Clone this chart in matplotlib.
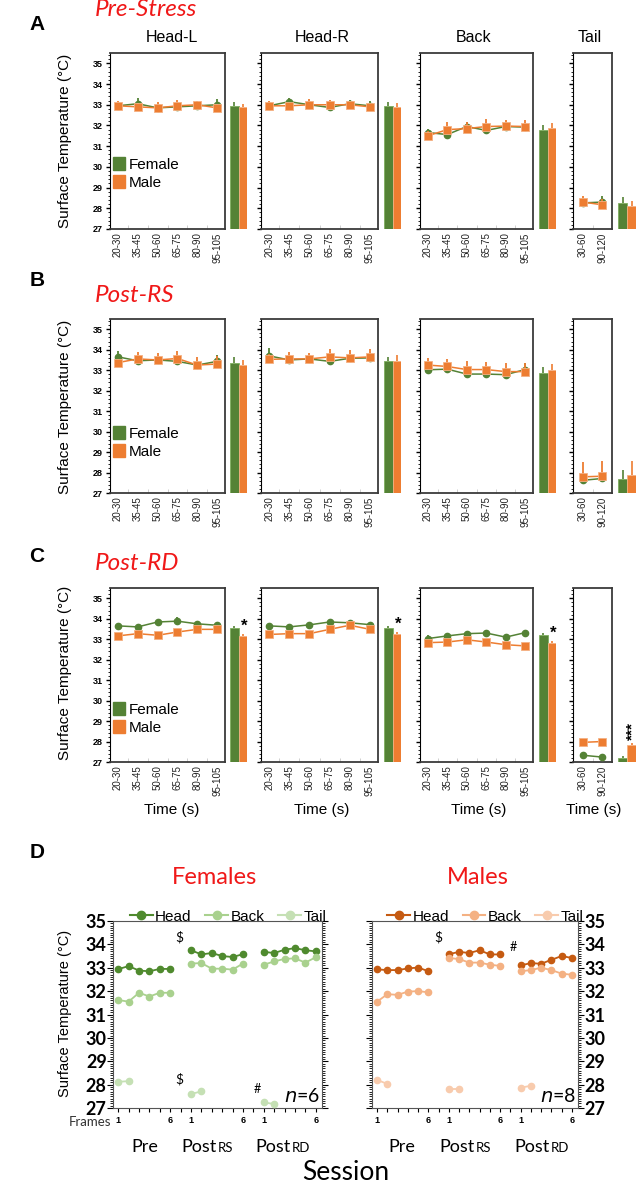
import numpy as np
import matplotlib.pyplot as plt
from matplotlib.patches import Patch
from matplotlib.lines import Line2D
from matplotlib.ticker import MultipleLocator

plt.rcParams['font.family'] = ['Liberation Sans', 'DejaVu Sans']

W, H = 638, 1190
GREEN, ORANGE = '#548235', '#ed7d31'
RED = '#f01818'
CAL = 'Lato'  # stand-in for Calibri

# ---------------- data: panels A-C ----------------
time_bins = ['20-30', '35-45', '50-60', '65-75', '80-90', '95-105']
tail_bins = ['30-60', '90-120']
region_titles = ['Head-L', 'Head-R', 'Back', 'Tail']
session_titles = ['Pre-Stress', 'Post-RS', 'Post-RD']

# order inside each list: Head-L, Head-R, Back, Tail
pre_female = [[32.95, 33.05, 32.85, 32.9, 32.95, 33.0],
              [32.95, 33.15, 33.0, 32.87, 33.05, 32.95],
              [31.66, 31.56, 31.95, 31.76, 31.95, 31.92],
              [28.26, 28.3]]
pre_female_err = [[0.1, 0.3, 0.1, 0.15, 0.1, 0.3],
                  [0.2, 0.2, 0.15, 0.1, 0.2, 0.25],
                  [0.15, 0.1, 0.2, 0.15, 0.15, 0.1],
                  [0.2, 0.3]]
pre_male = [[32.95, 32.9, 32.85, 32.95, 33.0, 32.85],
            [32.95, 32.95, 33.0, 33.0, 33.0, 32.9],
            [31.5, 31.8, 31.85, 31.95, 31.97, 31.95],
            [28.3, 28.17]]
pre_male_err = [[0.25, 0.2, 0.3, 0.3, 0.2, 0.2],
                [0.25, 0.1, 0.3, 0.25, 0.15, 0.15],
                [0.25, 0.35, 0.3, 0.35, 0.3, 0.3],
                [0.3, 0.3]]
pre_bar_female = [32.93, 32.93, 31.8, 28.26]
pre_bar_male = [32.87, 32.87, 31.87, 28.12]
pre_bar_female_err = [0.2, 0.2, 0.2, 0.3]
pre_bar_male_err = [0.15, 0.2, 0.25, 0.25]

rs_female = [[33.65, 33.46, 33.5, 33.43, 33.25, 33.43],
             [33.7, 33.5, 33.55, 33.43, 33.58, 33.6],
             [33.02, 33.05, 32.81, 32.81, 32.78, 33.03],
             [27.62, 27.71]]
rs_female_err = [[0.3, 0.1, 0.1, 0.1, 0.1, 0.3],
                 [0.4, 0.1, 0.1, 0.1, 0.1, 0.15],
                 [0.15, 0.1, 0.1, 0.1, 0.1, 0.3],
                 [0.1, 0.1]]
rs_male = [[33.37, 33.55, 33.5, 33.57, 33.25, 33.3],
           [33.53, 33.55, 33.55, 33.65, 33.6, 33.65],
           [33.25, 33.18, 33.03, 33.03, 32.93, 32.93],
           [27.79, 27.82]]
rs_male_err = [[0.2, 0.35, 0.35, 0.35, 0.4, 0.4],
               [0.25, 0.35, 0.3, 0.4, 0.4, 0.4],
               [0.35, 0.35, 0.4, 0.35, 0.4, 0.4],
               [0.7, 0.75]]
rs_bar_female = [33.33, 33.43, 32.87, 27.68]
rs_bar_male = [33.25, 33.47, 33.03, 27.89]
rs_bar_female_err = [0.3, 0.2, 0.3, 0.45]
rs_bar_male_err = [0.25, 0.25, 0.25, 0.65]

rd_female = [[33.65, 33.6, 33.84, 33.88, 33.75, 33.68],
             [33.65, 33.6, 33.7, 33.84, 33.8, 33.71],
             [33.03, 33.16, 33.27, 33.3, 33.1, 33.32],
             [27.33, 27.24]]
rd_female_err = [[0.15, 0.15, 0.15, 0.2, 0.15, 0.1],
                 [0.15, 0.15, 0.15, 0.15, 0.15, 0.15],
                 [0.15, 0.15, 0.15, 0.15, 0.15, 0.15],
                 [0.1, 0.1]]
rd_male = [[33.16, 33.27, 33.19, 33.35, 33.48, 33.48],
           [33.23, 33.27, 33.27, 33.48, 33.68, 33.48],
           [32.83, 32.86, 32.97, 32.86, 32.73, 32.67],
           [27.96, 28.0]]
rd_male_err = [[0.1, 0.1, 0.1, 0.1, 0.1, 0.1],
               [0.1, 0.1, 0.1, 0.1, 0.1, 0.1],
               [0.1, 0.1, 0.1, 0.1, 0.1, 0.1],
               [0.1, 0.1]]
rd_bar_female = [33.54, 33.56, 33.2, 27.18]
rd_bar_male = [33.16, 33.27, 32.83, 27.83]
rd_bar_female_err = [0.1, 0.1, 0.1, 0.1]
rd_bar_male_err = [0.1, 0.08, 0.1, 0.1]
rd_stars = ['*', '*', '*', '***']

# ---------------- data: panel D ----------------
# each list: Pre, Post-RS, Post-RD (frames 1..6, tail frames 1..2)
fem_head = [[32.94, 33.07, 32.88, 32.85, 32.95, 32.95],
            [33.75, 33.57, 33.63, 33.5, 33.46, 33.58],
            [33.68, 33.63, 33.77, 33.84, 33.75, 33.7]]
fem_back = [[31.62, 31.55, 31.93, 31.77, 31.93, 31.93],
            [33.18, 33.2, 32.96, 32.96, 32.92, 33.18],
            [33.13, 33.27, 33.38, 33.4, 33.22, 33.45]]
fem_tail = [[28.12, 28.15], [27.6, 27.71], [27.24, 27.17]]
male_head = [[32.93, 32.9, 32.9, 32.97, 33.01, 32.85],
             [33.58, 33.68, 33.63, 33.75, 33.57, 33.57],
             [33.1, 33.2, 33.17, 33.34, 33.5, 33.42]]
male_back = [[31.55, 31.87, 31.84, 31.98, 32.0, 31.95],
             [33.42, 33.37, 33.22, 33.22, 33.13, 33.08],
             [32.85, 32.9, 33.0, 32.9, 32.75, 32.7]]
male_tail = [[28.2, 28.03], [27.82, 27.82], [27.87, 27.95]]
fem_colors = ['#4f8a2e', '#a9d18e', '#c5e0b4']
male_colors = ['#c55a11', '#f4b183', '#f8cbad']
region_d = ['Head', 'Back', 'Tail']

fig = plt.figure(figsize=(W / 100, H / 100), dpi=100)


def px_axes(x0, y0, x1, y1):
    return fig.add_axes([x0 / W, 1 - y1 / H, (x1 - x0) / W, (y1 - y0) / H])


def px_text(x, y, s, **kw):
    kw.setdefault('ha', 'center')
    kw.setdefault('va', 'center')
    return fig.text(x / W, 1 - y / H, s, **kw)


box_x = [(110, 225), (261, 378), (420, 533), (573, 612)]
bar_x = [(230, 247), (384, 401), (539, 556), (618, 636)]
panel_y = [(53, 229), (319, 493), (588, 762)]
legend_y = [0.315, 0.29, 0.25]


def draw_session(row, female, female_err, male, male_err,
                 bar_f, bar_m, bar_f_err, bar_m_err, stars=None):
    y0, y1 = panel_y[row]
    for i in range(4):
        cats = time_bins if i < 3 else tail_bins
        x = np.arange(len(cats))
        zeros = np.zeros(len(cats))
        ax = px_axes(box_x[i][0], y0, box_x[i][1], y1)
        ax.errorbar(x, female[i], yerr=[zeros, female_err[i]], color=GREEN,
                    marker='o', ms=4.5, lw=1.1, elinewidth=1.3, capsize=0, zorder=3)
        ax.errorbar(x, male[i], yerr=[zeros, male_err[i]], color=ORANGE,
                    marker='s', ms=5.5, mec='#f4b183', mew=0.6, lw=1.1,
                    elinewidth=1.3, capsize=0, zorder=4)
        ax.set_ylim(27, 35.5)
        ax.set_xlim(-0.4 if i < 3 else -0.5, len(cats) - 0.6 if i < 3 else 1.5)
        ax.set_yticks(np.arange(27, 36))
        ax.yaxis.set_minor_locator(MultipleLocator(0.2))
        ax.tick_params(axis='y', which='major', length=3, width=1, direction='out',
                       labelsize=6.5, labelleft=(i == 0), pad=2)
        ax.tick_params(axis='y', which='minor', length=1.5, width=0.6, direction='out')
        for lbl in ax.get_yticklabels():
            lbl.set_fontweight('bold')
        ax.set_xticks(x, cats, rotation=90, fontsize=7, color='#222222')
        ax.set_xticks(x[:-1] + 0.5, minor=True)
        ax.tick_params(axis='x', which='major', length=0, pad=2.5)
        ax.tick_params(axis='x', which='minor', length=3, direction='in', color='#c8c8c8')
        for s in ax.spines.values():
            s.set_color('#3a3a3a')
            s.set_linewidth(1.3)
        ax.spines['left'].set_linewidth(0.8)
        ax.spines['left'].set_color('black')
        if i == 0:
            handles = [Patch(color=GREEN, label='Female'), Patch(color=ORANGE, label='Male')]
            ax.legend(handles=handles, loc='center left', bbox_to_anchor=(0.0, legend_y[row]),
                      frameon=False, fontsize=11, handlelength=0.8, handleheight=0.9,
                      handletextpad=0.2, labelspacing=0.25, borderpad=0.1, borderaxespad=0.1)

        bx = px_axes(bar_x[i][0], y0, bar_x[i][1], y1)
        bx.bar([0, 1], [bar_f[i] - 27, bar_m[i] - 27], bottom=27, width=1,
               color=[GREEN, ORANGE], edgecolor=['#7fae5f', '#f4b183'], linewidth=0.6)
        bx.errorbar([0], [bar_f[i]], yerr=[[0], [bar_f_err[i]]], fmt='none',
                    ecolor=GREEN, elinewidth=1.2, capsize=0)
        bx.errorbar([1], [bar_m[i]], yerr=[[0], [bar_m_err[i]]], fmt='none',
                    ecolor=ORANGE, elinewidth=1.2, capsize=0)
        bx.set_xlim(-0.5, 1.5)
        bx.set_ylim(27, 35.5)
        bx.axis('off')
        if stars is not None:
            if stars[i] == '***':
                bx.annotate(stars[i], (1, bar_m[i] + bar_m_err[i]), xytext=(1, 2),
                            textcoords='offset points', rotation=90, ha='center',
                            va='bottom', fontsize=11, fontweight='bold', annotation_clip=False)
            else:
                bx.annotate(stars[i], (1, bar_m[i] + bar_m_err[i]), xytext=(1, 0),
                            textcoords='offset points', ha='center', va='bottom',
                            fontsize=12, fontweight='bold', annotation_clip=False)


draw_session(0, pre_female, pre_female_err, pre_male, pre_male_err,
             pre_bar_female, pre_bar_male, pre_bar_female_err, pre_bar_male_err)
draw_session(1, rs_female, rs_female_err, rs_male, rs_male_err,
             rs_bar_female, rs_bar_male, rs_bar_female_err, rs_bar_male_err)
draw_session(2, rd_female, rd_female_err, rd_male, rd_male_err,
             rd_bar_female, rd_bar_male, rd_bar_female_err, rd_bar_male_err, rd_stars)

# titles and labels for A-C
for (cx, t) in zip([172, 322, 474, 590], region_titles):
    px_text(cx, 38, t, fontsize=11.5)
for (cx, cy, t) in zip([146, 135, 137], [9, 295, 563], session_titles):
    px_text(cx, cy, t, fontsize=17.5, color=RED, style='italic', family=CAL)
for (cy, t) in zip([25, 280, 557, 852], ['A', 'B', 'C', 'D']):
    px_text(37, cy, t, fontsize=15, fontweight='bold')
for cy in [141, 407, 673]:
    px_text(65, cy, 'Surface Temperature (°C)', rotation=90, fontsize=11)
for cx in [172, 322, 479, 594]:
    px_text(cx, 810, 'Time (s)', fontsize=11)

# ---------------- panel D ----------------
frames_x = [np.arange(0, 6), np.arange(7, 13), np.arange(14, 20)]
frame_labels = ['1', '', '', '', '', '6', ''] * 2 + ['1', '', '', '', '', '6']

fa = px_axes(113, 921, 322, 1108)
ma = px_axes(372, 921, 578, 1108)
for ax, series, colors, right in [(fa, [fem_head, fem_back, fem_tail], fem_colors, False),
                                  (ma, [male_head, male_back, male_tail], male_colors, True)]:
    for vals, c in zip(series, colors):
        for s in range(3):
            xs = frames_x[s][:len(vals[s])]
            ax.plot(xs, vals[s], color=c, marker='o', ms=4.5, lw=1.3, zorder=3)
    ax.set_ylim(27, 35)
    ax.set_xlim(-0.5, 19.6)
    ax.set_yticks(np.arange(27, 36))
    ax.yaxis.set_minor_locator(MultipleLocator(0.1))
    ax.set_xticks(np.arange(20), frame_labels)
    ax.tick_params(axis='x', length=3, width=0.8, labelsize=6.5, pad=3)
    for lbl in ax.get_xticklabels():
        lbl.set_fontweight('bold')
    ax.tick_params(axis='y', which='both', left=True, right=True, direction='out',
                   labelleft=not right, labelright=right, labelsize=13, pad=0.5)
    ax.tick_params(axis='y', which='major', length=4, width=0.8)
    ax.tick_params(axis='y', which='minor', length=2, width=0.6)
    for lbl in ax.get_yticklabels():
        lbl.set_fontweight('bold')
        lbl.set_family(CAL)
    for sp in ax.spines.values():
        sp.set_color('#555555')
        sp.set_linewidth(0.8)
    handles = [Line2D([], [], color=c, marker='o', ms=6, lw=1.5) for c in colors]
    ax.legend(handles, region_d, ncol=3, loc='lower center', bbox_to_anchor=(0.55, 0.985),
              frameon=False, fontsize=11, handlelength=1.5, handletextpad=0.15,
              columnspacing=0.9, borderpad=0, borderaxespad=0)

fa.text(5.9, 34.3, '$', ha='center', va='center', fontsize=10, family=CAL)
fa.text(5.9, 28.24, '$', ha='center', va='center', fontsize=10, family=CAL)
fa.text(13.4, 27.8, '#', ha='center', va='center', fontsize=9, family=CAL)
ma.text(5.96, 34.3, '$', ha='center', va='center', fontsize=10, family=CAL)
ma.text(13.3, 33.9, '#', ha='center', va='center', fontsize=9, family=CAL)
fa.text(0.99, 0.015, r'$\it{n}$=6', transform=fa.transAxes, ha='right', va='bottom',
        fontsize=14, family=CAL)
ma.text(0.99, 0.015, r'$\it{n}$=8', transform=ma.transAxes, ha='right', va='bottom',
        fontsize=14, family=CAL)

px_text(215, 877, 'Females', fontsize=17, color=RED, family=CAL)
px_text(478, 877, 'Males', fontsize=17, color=RED, family=CAL)
px_text(65, 1013, 'Surface Temperature (°C)', rotation=90, fontsize=10.5)
px_text(111, 1122, 'Frames', ha='right', fontsize=9.5, family=CAL, color='#333333')
for x_pre, x_post_rs, x_post_rd in [(145, 217, 291), (402, 475, 550)]:
    px_text(x_pre, 1152, 'Pre', va='baseline', fontsize=13, family=CAL)
    px_text(x_post_rs, 1152, 'Post', ha='right', va='baseline', fontsize=13, family=CAL)
    px_text(x_post_rs + 1, 1152, 'RS', ha='left', va='baseline', fontsize=9.5, family=CAL)
    px_text(x_post_rd, 1152, 'Post', ha='right', va='baseline', fontsize=13, family=CAL)
    px_text(x_post_rd + 1, 1152, 'RD', ha='left', va='baseline', fontsize=9.5, family=CAL)
px_text(346, 1173, 'Session', fontsize=19, family=CAL)

fig.savefig('out.png', dpi=100)
